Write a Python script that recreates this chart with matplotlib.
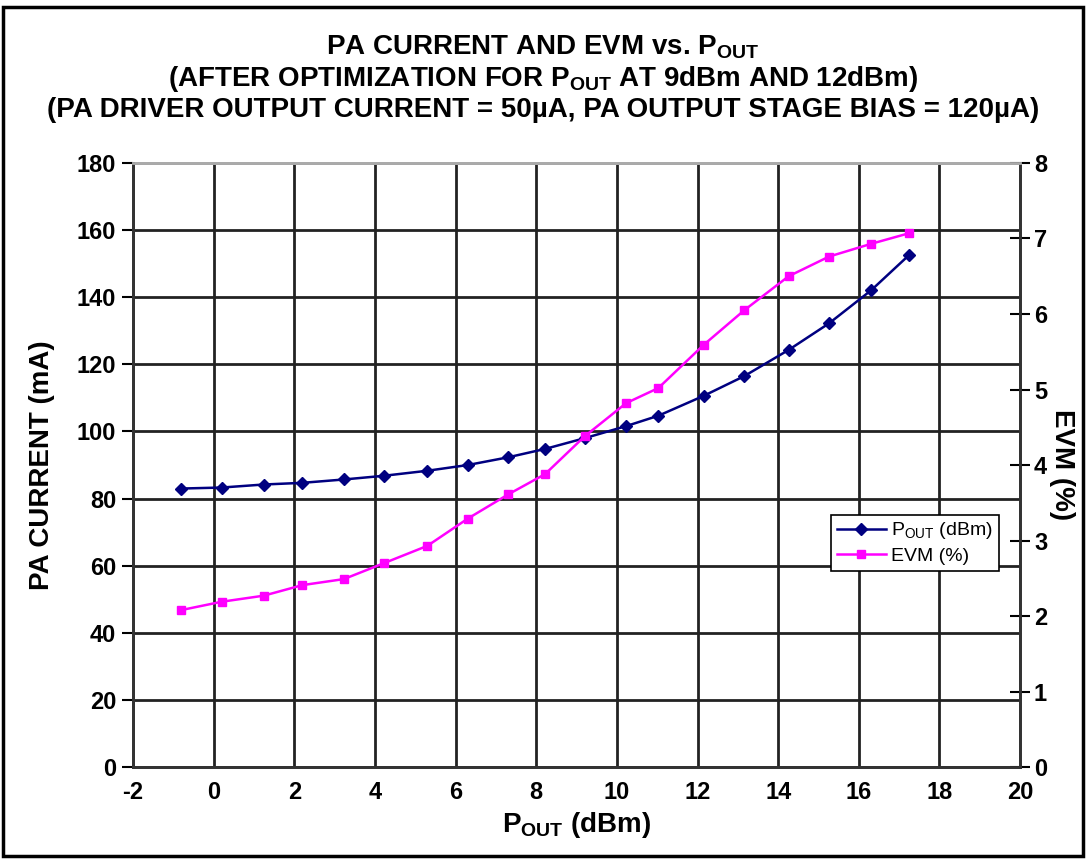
import matplotlib.pyplot as plt
from matplotlib.patches import Rectangle

plt.rcParams["font.family"] = ["Liberation Sans Narrow", "Liberation Sans", "DejaVu Sans"]
plt.rcParams["font.weight"] = "bold"
plt.rcParams["axes.unicode_minus"] = False

POUT_DBM = [-0.8, 0.2, 1.24, 2.2, 3.23, 4.22, 5.3, 6.3, 7.3, 8.22, 9.2,
            10.23, 11.03, 12.15, 13.16, 14.26, 15.26, 16.31, 17.25]
PA_CURRENT_MA = [83.0, 83.3, 84.2, 84.7, 85.7, 86.8, 88.3, 90.0, 92.3, 94.8, 98.0,
                 101.6, 104.7, 110.6, 116.5, 124.3, 132.2, 142.1, 152.6]
EVM_PCT = [2.08, 2.19, 2.27, 2.41, 2.49, 2.70, 2.93, 3.29, 3.61, 3.88, 4.38,
           4.82, 5.02, 5.59, 6.05, 6.50, 6.76, 6.93, 7.07]

X_TICKS = list(range(-2, 21, 2))
LEFT_TICKS = list(range(0, 181, 20))
RIGHT_TICKS = list(range(0, 9))

TITLE = ("PA CURRENT AND EVM vs. $\\mathregular{P_{OUT}}$\n"
         "(AFTER OPTIMIZATION FOR $\\mathregular{P_{OUT}}$ AT 9dBm AND 12dBm)\n"
         "(PA DRIVER OUTPUT CURRENT = 50\u00b5A, PA OUTPUT STAGE BIAS = 120\u00b5A)")


def main():
    fig = plt.figure(figsize=(10.86, 8.6), dpi=100)
    fig.patches.append(Rectangle((0.003, 0.005), 0.994, 0.987, transform=fig.transFigure,
                                 fill=False, edgecolor="black", linewidth=2.5))

    ax = fig.add_axes([0.1225, 0.108, 0.8168, 0.7025])
    ax2 = ax.twinx()

    l1, = ax.plot(POUT_DBM, PA_CURRENT_MA, color="#000080", linewidth=1.8,
                  marker="D", markersize=6.5, label="$\\mathregular{P_{OUT}}$ (dBm)")
    l2, = ax2.plot(POUT_DBM, EVM_PCT, color="#ff00ff", linewidth=1.8,
                   marker="s", markersize=6, label="EVM (%)")

    ax.set_xlim(-2, 20)
    ax.set_ylim(0, 180)
    ax2.set_ylim(0, 8)
    ax.set_xticks(X_TICKS)
    ax.set_yticks(LEFT_TICKS)
    ax2.set_yticks(RIGHT_TICKS)

    ax.grid(True, color="#222222", linewidth=2)
    ax.set_axisbelow(True)

    for a in (ax, ax2):
        for side in ("left", "right", "bottom"):
            a.spines[side].set_color("#333333")
            a.spines[side].set_linewidth(2)
        a.spines["top"].set_color("#aaaaaa")
        a.spines["top"].set_linewidth(2)

    ax.tick_params(axis="x", direction="in", length=0, labelsize=17, pad=10)
    ax.tick_params(axis="y", direction="out", length=8, width=1.5, labelsize=17, pad=4)
    ax2.tick_params(axis="y", direction="inout", length=14, width=1.5, labelsize=17, pad=3)

    ax.set_xlabel("$\\mathregular{P_{OUT}}$ (dBm)", fontsize=20, fontweight="bold", labelpad=4)
    ax.set_ylabel("PA CURRENT (mA)", fontsize=20, fontweight="bold", labelpad=16)
    ax2.set_ylabel("EVM (%)", fontsize=20, fontweight="bold", rotation=270, labelpad=20)

    fig.text(0.5, 0.909, TITLE, ha="center", va="center", fontsize=20,
             fontweight="bold", linespacing=1.15)

    leg = ax2.legend(handles=[l1, l2], loc="upper left", bbox_to_anchor=(0.776, 0.434),
                     fontsize=14, frameon=True, fancybox=False, framealpha=1,
                     edgecolor="black", handlelength=2.5, borderpad=0.3,
                     labelspacing=0.3, handletextpad=0.3)
    leg.get_frame().set_linewidth(1.2)
    for t in leg.get_texts():
        t.set_fontweight("normal")

    fig.savefig("out.png", dpi=100)


if __name__ == "__main__":
    main()
